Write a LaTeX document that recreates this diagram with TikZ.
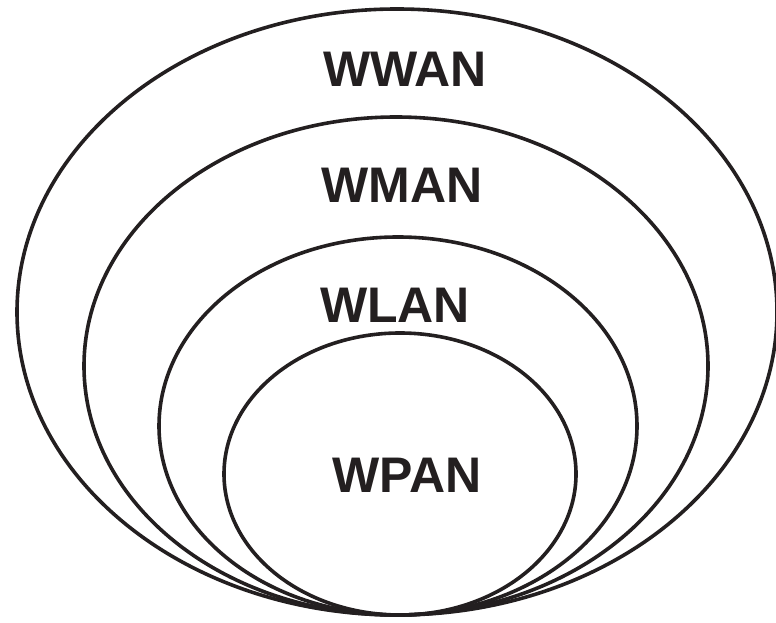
\documentclass[tikz,border=0pt]{standalone}
\usepackage{fontspec}
\setmainfont{Liberation Sans}
\definecolor{ink}{RGB}{35,31,32}

\begin{document}
\begin{tikzpicture}[x=1pt,y=1pt,line width=3.6pt,draw=ink,
  lbl/.style={text=ink,font=\fontsize{50}{50}\selectfont\bfseries}]
\useasboundingbox (0,0) rectangle (776,622);
% nested ranges, all touching at the bottom
\draw (397,310) ellipse [x radius=380, y radius=303];
\draw (396,256) ellipse [x radius=312, y radius=249];
\draw (398,196) ellipse [x radius=239, y radius=189];
\draw (400,148) ellipse [x radius=176, y radius=141];
\node[lbl] (wwan) at (405,553){WWAN};
\node[lbl] (wman) at (402,437){WMAN};
\node[lbl] (wlan) at (395,317){WLAN};
\node[lbl] (wpan) at (407,147){WPAN};
\end{tikzpicture}
\end{document}
